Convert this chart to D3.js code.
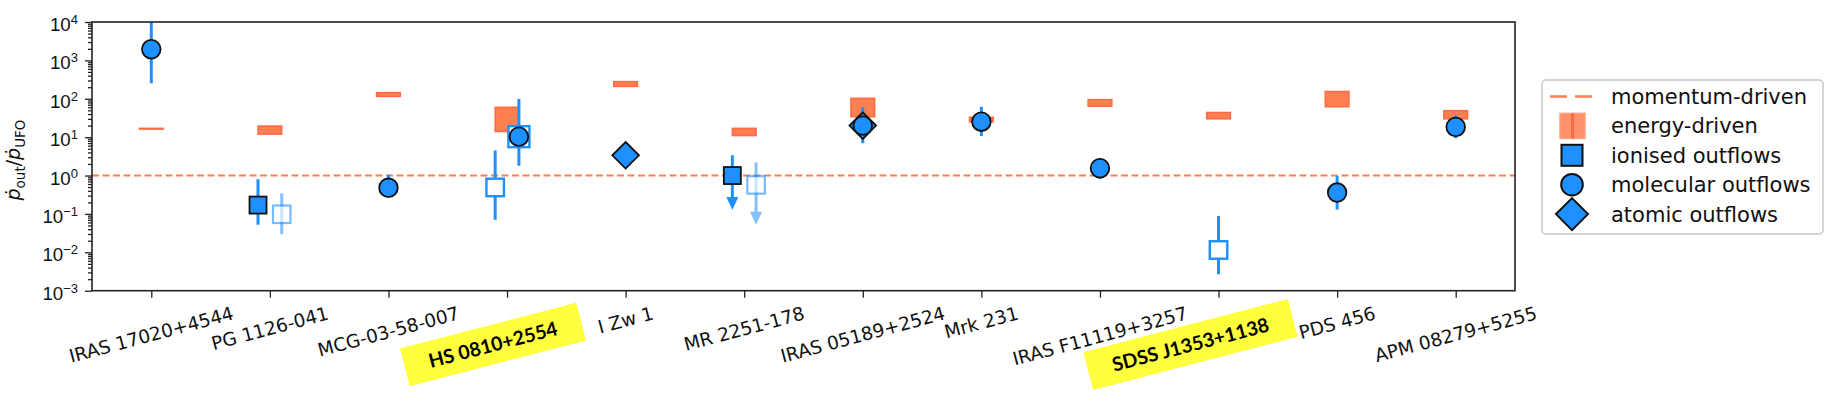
<!DOCTYPE html>
<html>
<head>
<meta charset="utf-8">
<script src="https://cdn.jsdelivr.net/npm/d3@7"></script>
<style>
body { margin: 0; background: #fff; }
svg { display: block; font-family: "DejaVu Sans", sans-serif; }
</style>
</head>
<body>
<div id="chart"></div>
<script>
var categories = ["IRAS 17020+4544", "PG 1126-041", "MCG-03-58-007", "HS 0810+2554", "I Zw 1",
    "MR 2251-178", "IRAS 05189+2524", "Mrk 231", "IRAS F11119+3257", "SDSS J1353+1138",
    "PDS 456", "APM 08279+5255"];
var highlighted = ["HS 0810+2554", "SDSS J1353+1138"];

// energy-driven range for each source (same order as categories)
var energyLow  = [16.2, 12, 115, 14, 210, 11, 34, 25, 64, 30, 62, 30];
var energyHigh = [17, 19.5, 145, 60, 280, 17, 103, 33, 95, 44, 155, 49];

var momentumDriven = 1;

// side: -1 left of the tick, 0 on it, 1 right of it
var ionised = [
    {name: "PG 1126-041", side: -1, value: 0.17, low: 0.052, high: 0.8},
    {name: "MR 2251-178", side: -1, value: 1.0, low: 0.127, high: 3.4, upperLimit: true}
];
var ionisedOpen = [
    {name: "HS 0810+2554", side: -1, value: 0.49, low: 0.07, high: 4.5},
    {name: "HS 0810+2554", side: 1, value: 10.3},
    {name: "SDSS J1353+1138", side: 0, value: 0.0115, low: 0.0027, high: 0.0885}
];
var ionisedOpenFaint = [
    {name: "PG 1126-041", side: 1, value: 0.098, low: 0.0295, high: 0.345},
    {name: "MR 2251-178", side: 1, value: 0.57, low: 0.052, high: 2.2, upperLimit: true}
];
var molecular = [
    {name: "IRAS 17020+4544", side: 0, value: 1950, low: 253, high: 15000},
    {name: "MCG-03-58-007", side: 0, value: 0.48, low: 0.3, high: 1.05},
    {name: "HS 0810+2554", side: 1, value: 10.3, low: 1.8, high: 99},
    {name: "IRAS 05189+2524", side: 0, value: 20, low: 6.9, high: 60},
    {name: "Mrk 231", side: 0, value: 25.3, low: 10.7, high: 62},
    {name: "IRAS F11119+3257", side: 0, value: 1.55, low: 0.81, high: 2.82},
    {name: "PDS 456", side: 0, value: 0.36, low: 0.13, high: 0.975},
    {name: "APM 08279+5255", side: 0, value: 18.4, low: 9.35, high: 37.8}
];
var atomic = [
    {name: "I Zw 1", side: 0, value: 3.37},
    {name: "IRAS 05189+2524", side: 0, value: 20}
];

var yTicks = [1e-3, 1e-2, 1e-1, 1, 10, 100, 1000, 1e4];
var yTickExp = ["\u22123", "\u22122", "\u22121", "0", "1", "2", "3", "4"];
var legendLabels = ["momentum-driven", "energy-driven", "ionised outflows", "molecular outflows", "atomic outflows"];

var width = 1840;
var height = 398;
var plotLeft = 92, plotRight = 1515, plotTop = 22, plotBottom = 290.7;
var blue = "#1e90ff";
var coral = "#ff7f50";
var dodge = 0.1;
var angle = 15 * Math.PI / 180;

var svg = d3.select("#chart").append("svg")
    .attr("width", width)
    .attr("height", height);

svg.append("rect").attr("width", width).attr("height", height).attr("fill", "#fff");

var xScale = d3.scaleLinear()
    .domain([-0.5, categories.length - 0.5])
    .range([plotLeft, plotRight]);

var yScale = d3.scaleLog()
    .domain([1e-3, 1e4])
    .range([plotBottom, plotTop]);

function xPos(d) {
    return xScale(categories.indexOf(d.name) + d.side * dodge);
}

// an open square sitting under a molecular circle is drawn a bit larger so it shows round it
function sharesCircle(d) {
    return molecular.some(function(m) {
        return m.name === d.name && m.side === d.side && m.value === d.value;
    });
}

svg.append("clipPath").attr("id", "plotClip")
    .append("rect")
        .attr("x", plotLeft).attr("y", plotTop)
        .attr("width", plotRight - plotLeft).attr("height", plotBottom - plotTop);

var plot = svg.append("g").attr("clip-path", "url(#plotClip)");

// energy-driven boxes
plot.selectAll(".energy")
    .data(categories)
    .enter()
    .append("rect")
        .classed("energy", true)
        .attr("x", function(d, i) { return xScale(i - dodge); })
        .attr("width", function(d, i) { return xScale(i + dodge) - xScale(i - dodge); })
        .attr("y", function(d, i) { return yScale(energyHigh[i]); })
        .attr("height", function(d, i) { return yScale(energyLow[i]) - yScale(energyHigh[i]); })
        .attr("fill", coral)
        .attr("stroke", "#ff6a45")
        .attr("stroke-width", 1.5);

// momentum-driven line
plot.append("line")
    .attr("x1", plotLeft).attr("x2", plotRight)
    .attr("y1", yScale(momentumDriven)).attr("y2", yScale(momentumDriven))
    .attr("stroke", coral)
    .attr("stroke-width", 2)
    .attr("stroke-dasharray", "7,3.5");

// error bars
function drawErrors(data, opacity) {
    var withErr = data.filter(function(d) { return d.low !== undefined; });
    var g = plot.append("g").attr("opacity", opacity);
    g.selectAll("line")
        .data(withErr)
        .enter()
        .append("line")
            .attr("x1", xPos).attr("x2", xPos)
            .attr("y1", function(d) { return yScale(d.high); })
            .attr("y2", function(d) { return d.upperLimit ? yScale(d.low) - 10 : yScale(d.low); })
            .attr("stroke", blue)
            .attr("stroke-width", 3);
    g.selectAll("path")
        .data(withErr.filter(function(d) { return d.upperLimit; }))
        .enter()
        .append("path")
            .attr("d", function(d) {
                var x = xPos(d), y = yScale(d.low);
                return "M" + (x - 6) + "," + (y - 13) + "L" + (x + 6) + "," + (y - 13) + "L" + x + "," + y + "Z";
            })
            .attr("fill", blue);
}
drawErrors(ionisedOpenFaint, 0.55);
drawErrors(ionisedOpen, 1);
drawErrors(ionised, 1);
drawErrors(molecular, 1);

// markers
function squares(data, size, fill, stroke, sw, opacity) {
    plot.append("g").attr("opacity", opacity)
        .selectAll("rect")
        .data(data)
        .enter()
        .append("rect")
            .attr("x", function(d) { return xPos(d) - size(d) / 2; })
            .attr("y", function(d) { return yScale(d.value) - size(d) / 2; })
            .attr("width", size).attr("height", size)
            .attr("fill", fill)
            .attr("stroke", stroke)
            .attr("stroke-width", sw);
}
var openSize = function(d) { return sharesCircle(d) ? 21 : 17.5; };
squares(ionisedOpenFaint, openSize, "#fff", blue, 2.2, 0.6);
squares(ionisedOpen, openSize, "#fff", blue, 2.4, 1);

plot.selectAll(".atomic")
    .data(atomic)
    .enter()
    .append("path")
        .classed("atomic", true)
        .attr("d", function(d) {
            var x = xPos(d), y = yScale(d.value), h = 13.3;
            return "M" + x + "," + (y - h) + "L" + (x + h) + "," + y + "L" + x + "," + (y + h) + "L" + (x - h) + "," + y + "Z";
        })
        .attr("fill", blue)
        .attr("stroke", "#111")
        .attr("stroke-width", 1.8);

squares(ionised, function() { return 17; }, blue, "#111", 1.8, 1);

plot.selectAll(".molecular")
    .data(molecular)
    .enter()
    .append("circle")
        .classed("molecular", true)
        .attr("cx", xPos)
        .attr("cy", function(d) { return yScale(d.value); })
        .attr("r", 9.3)
        .attr("fill", blue)
        .attr("stroke", "#111")
        .attr("stroke-width", 1.8);

// AXES
var yAxis = d3.axisLeft(yScale).tickValues(yTicks).tickSize(7).tickSizeOuter(0).tickPadding(7);
var yAxisG = svg.append("g")
    .classed("yAxis", true)
    .attr("transform", "translate(" + plotLeft + ",0)")
    .call(yAxis);
yAxisG.selectAll(".tick text")
    .text(null)
    .attr("dy", "0.46em")
    .style("font-size", "18.7px")
    .attr("fill", "#111")
    .each(function(d, i) {
        var t = d3.select(this);
        t.append("tspan").text("10");
        t.append("tspan").attr("dy", "-7").style("font-size", "13px").text(yTickExp[i]);
    });

var minorTicks = [];
yTicks.slice(0, -1).forEach(function(v) {
    d3.range(2, 10).forEach(function(k) { minorTicks.push(v * k); });
});
svg.append("g")
    .attr("transform", "translate(" + plotLeft + ",0)")
    .call(d3.axisLeft(yScale).tickValues(minorTicks).tickSize(4).tickSizeOuter(0).tickFormat(""));

svg.append("g")
    .attr("transform", "translate(0," + plotBottom + ")")
    .call(d3.axisBottom(xScale).tickValues(d3.range(categories.length)).tickSize(7).tickSizeOuter(0).tickFormat(""));

svg.selectAll(".domain").remove();
svg.selectAll(".tick line").attr("stroke", "#222").attr("stroke-width", 1.3);

svg.append("rect")
    .attr("x", plotLeft).attr("y", plotTop)
    .attr("width", plotRight - plotLeft).attr("height", plotBottom - plotTop)
    .attr("fill", "none")
    .attr("stroke", "#222")
    .attr("stroke-width", 1.6);

// x labels
var labelTop = 306;
var xLabels = svg.append("g").style("font-size", "18.5px").attr("fill", "#111");
categories.forEach(function(name, i) {
    if (highlighted.indexOf(name) >= 0) return;
    var t = xLabels.append("text")
        .attr("text-anchor", "middle")
        .attr("dy", "0.35em")
        .text(name);
    var len = t.node().getComputedTextLength();
    var cy = labelTop + len / 2 * Math.sin(angle) + 7 * Math.cos(angle);
    t.attr("transform", "translate(" + xScale(i) + "," + cy + ") rotate(-15)");
});

// highlighted labels
highlighted.forEach(function(name) {
    var i = categories.indexOf(name);
    var g = svg.append("g");
    var t = g.append("text")
        .attr("text-anchor", "middle")
        .attr("dy", "0.36em")
        .style("font-family", "Lato, 'Open Sans', sans-serif")
        .style("font-weight", "bold")
        .style("font-size", "19.5px")
        .attr("fill", "#000")
        .text(name);
    var len = t.node().getComputedTextLength();
    var boxW = len + 50, boxH = 39;
    g.insert("rect", "text")
        .attr("x", -boxW / 2).attr("y", -boxH / 2)
        .attr("width", boxW).attr("height", boxH)
        .attr("fill", "#ffff3e");
    var cx = xScale(i) + 74 - boxW / 2 * Math.cos(angle);
    g.attr("transform", "translate(" + cx + ",344.5) rotate(-14.6)");
});

// y label
var yLabel = svg.append("text")
    .attr("transform", "translate(20,160) rotate(-90)")
    .attr("text-anchor", "middle")
    .style("font-size", "19px")
    .attr("fill", "#111");
yLabel.append("tspan").style("font-style", "italic").text("\u1e57");
yLabel.append("tspan").attr("dy", 4.5).style("font-size", "13.5px").text("out");
yLabel.append("tspan").attr("dy", -4.5).text("/");
yLabel.append("tspan").style("font-style", "italic").text("\u1e57");
yLabel.append("tspan").attr("dy", 4.5).style("font-size", "13.5px").text("UFO");

// LEGEND
var legend = svg.append("g");
legend.append("rect")
    .attr("x", 1542).attr("y", 80)
    .attr("width", 281).attr("height", 154)
    .attr("rx", 4)
    .attr("fill", "#fff")
    .attr("stroke", "#d4d4d4")
    .attr("stroke-width", 2);

var rowY = function(i) { return 96.5 + i * 29.4; };
var hx = 1572;

legend.selectAll("text")
    .data(legendLabels)
    .enter()
    .append("text")
        .attr("x", 1611)
        .attr("y", function(d, i) { return rowY(i); })
        .attr("dy", "0.36em")
        .style("font-size", "21px")
        .attr("fill", "#111")
        .text(function(d) { return d; });

legend.append("line")
    .attr("x1", 1550).attr("x2", 1594)
    .attr("y1", rowY(0)).attr("y2", rowY(0))
    .attr("stroke", coral)
    .attr("stroke-width", 2.6)
    .attr("stroke-dasharray", "17,8");

legend.append("rect")
    .attr("x", hx - 12).attr("y", rowY(1) - 12.5)
    .attr("width", 25).attr("height", 25)
    .attr("fill", coral).attr("opacity", 0.85)
    .attr("stroke", "#ff8f68").attr("stroke-width", 1.5);
legend.append("line")
    .attr("x1", hx + 0.5).attr("x2", hx + 0.5)
    .attr("y1", rowY(1) - 12.5).attr("y2", rowY(1) + 12.5)
    .attr("stroke", "#ff6a45").attr("stroke-width", 3);

legend.append("rect")
    .attr("x", hx - 10.5).attr("y", rowY(2) - 10.5)
    .attr("width", 21).attr("height", 21)
    .attr("fill", blue).attr("stroke", "#111").attr("stroke-width", 2);

legend.append("circle")
    .attr("cx", hx).attr("cy", rowY(3)).attr("r", 10.8)
    .attr("fill", blue).attr("stroke", "#111").attr("stroke-width", 2);

legend.append("path")
    .attr("d", "M" + hx + "," + (rowY(4) - 16) + "L" + (hx + 16) + "," + rowY(4) + "L" + hx + "," + (rowY(4) + 16) + "L" + (hx - 16) + "," + rowY(4) + "Z")
    .attr("fill", blue).attr("stroke", "#111").attr("stroke-width", 2);
</script>
</body>
</html>
